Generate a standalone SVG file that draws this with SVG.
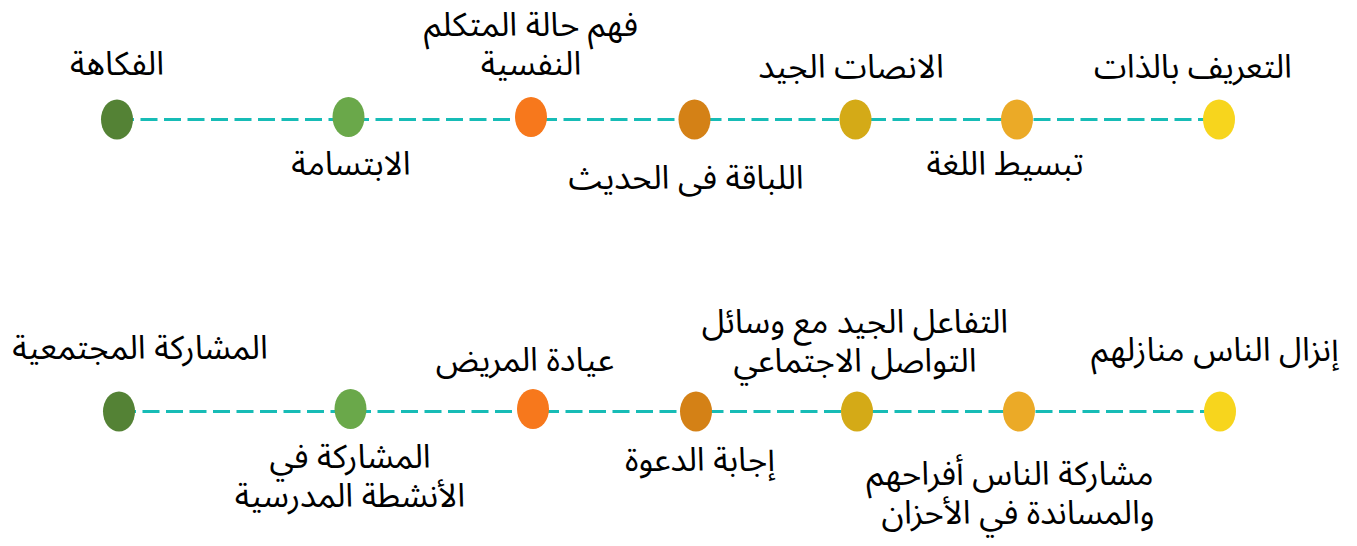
<svg xmlns="http://www.w3.org/2000/svg" width="1357" height="546" viewBox="0 0 1357 546">
<style>
.t{font-family:"Noto Sans Arabic","DejaVu Sans","Noto Sans",sans-serif;font-size:33px;fill:#000;text-anchor:middle;direction:rtl;unicode-bidi:embed}
.ln{stroke:#17BCB6;stroke-width:3;stroke-dasharray:17 6.5;fill:none}
.c1{fill:#548235}.c2{fill:#6AA84A}.c3{fill:#F7781C}.c4{fill:#D48116}.c5{fill:#D4AA17}.c6{fill:#EBAA27}.c7{fill:#F7D51D}
</style>
<g id="connectors">
<line class="ln" x1="117" y1="119.5" x2="1218" y2="119.5"/>
<line class="ln" x1="119" y1="411.5" x2="1220" y2="411.5"/>
</g>
<g id="n1"><ellipse class="c7" cx="1219" cy="119.5" rx="16" ry="20"/><text class="t" x="1193" y="78">التعريف بالذات</text></g>
<g id="n2"><ellipse class="c6" cx="1017" cy="119.5" rx="16" ry="20"/><text class="t" x="1005" y="175">تبسيط اللغة</text></g>
<g id="n3"><ellipse class="c5" cx="855.5" cy="119.5" rx="16" ry="20"/><text class="t" x="851" y="78">الانصات الجيد</text></g>
<g id="n4"><ellipse class="c4" cx="694.5" cy="119.5" rx="16" ry="20"/><text class="t" x="686" y="189">اللباقة فى الحديث</text></g>
<g id="n5"><ellipse class="c3" cx="531" cy="117" rx="16" ry="20"/><text class="t" x="531" y="36">فهم حالة المتكلم</text><text class="t" x="531" y="75">النفسية</text></g>
<g id="n6"><ellipse class="c2" cx="348.5" cy="117" rx="16" ry="20"/><text class="t" x="351" y="175">الابتسامة</text></g>
<g id="n7"><ellipse class="c1" cx="117" cy="119.5" rx="16" ry="20"/><text class="t" x="117" y="75">الفكاهة</text></g>
<g id="m1"><ellipse class="c7" cx="1220" cy="411.5" rx="16" ry="20"/><text class="t" x="1215" y="361">إنزال الناس منازلهم</text></g>
<g id="m2"><ellipse class="c6" cx="1019" cy="411.5" rx="16" ry="20"/><text class="t" x="1010" y="485">مشاركة الناس أفراحهم</text><text class="t" x="1018" y="524">والمساندة في الأحزان</text></g>
<g id="m3"><ellipse class="c5" cx="857" cy="411.5" rx="16" ry="20"/><text class="t" x="855" y="333">التفاعل الجيد مع وسائل</text><text class="t" x="855" y="372">التواصل الاجتماعي</text></g>
<g id="m4"><ellipse class="c4" cx="696" cy="411.5" rx="16" ry="20"/><text class="t" x="700" y="471">إجابة الدعوة</text></g>
<g id="m5"><ellipse class="c3" cx="533" cy="409" rx="16" ry="20"/><text class="t" x="525" y="371">عيادة المريض</text></g>
<g id="m6"><ellipse class="c2" cx="350.5" cy="409" rx="16" ry="20"/><text class="t" x="350" y="468">المشاركة في</text><text class="t" x="350" y="507">الأنشطة المدرسية</text></g>
<g id="m7"><ellipse class="c1" cx="119" cy="411.5" rx="16" ry="20"/><text class="t" x="140" y="359">المشاركة المجتمعية</text></g>
</svg>
